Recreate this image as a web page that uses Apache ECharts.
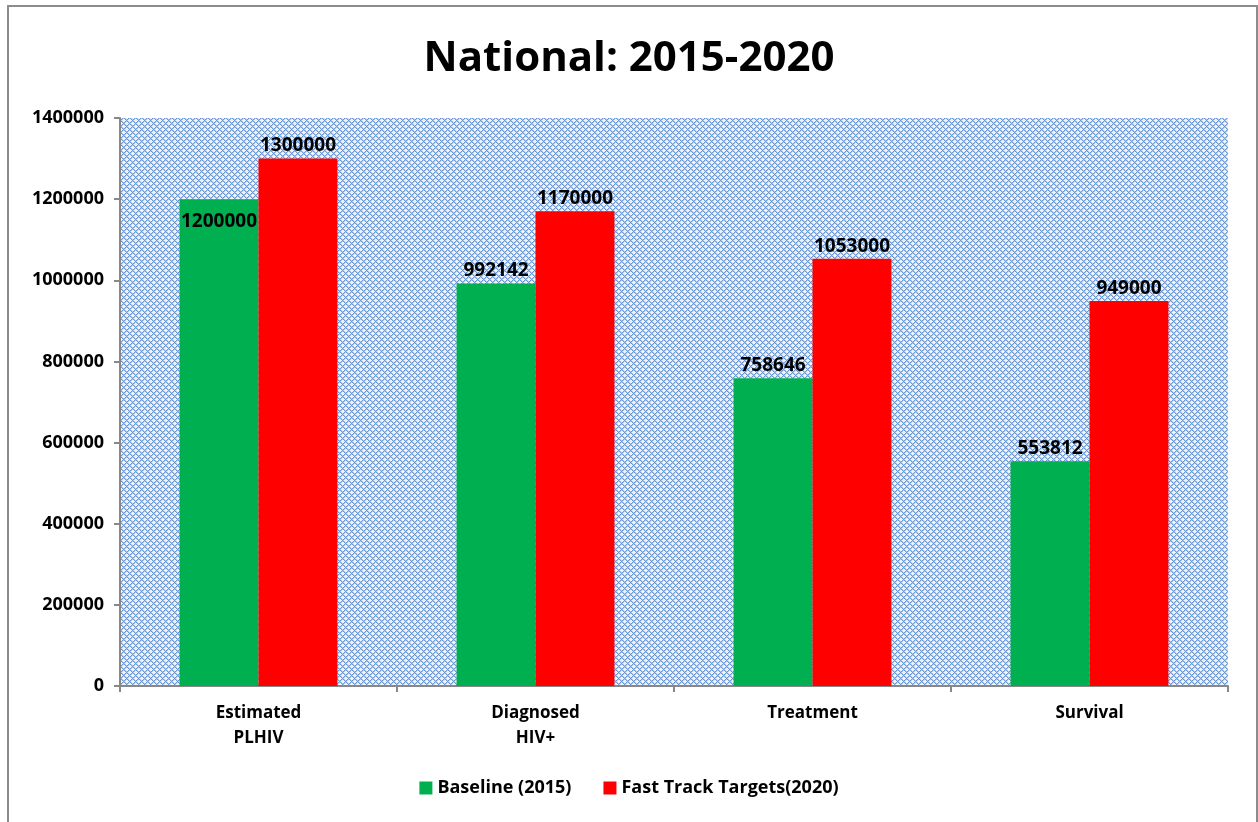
<!DOCTYPE html>
<html>
<head>
<meta charset="utf-8">
<script src="https://cdn.jsdelivr.net/npm/echarts@6/dist/echarts.min.js"></script>
<style>
	html, body { margin: 0; padding: 0; background: #fff; overflow: hidden; }
	#frame { position: absolute; left: 7px; top: 5px; width: 1247px; height: 840px; border: 2px solid #8c8c8c; }
	#chart { position: absolute; left: 0; top: 0; width: 1258px; height: 822px; }
</style>
</head>
<body>
<div id="frame"></div>
<div id="chart"></div>
<script>
const categories = ['Estimated\nPLHIV', 'Diagnosed\nHIV+', 'Treatment', 'Survival']
const baseline = [1200000, 992142, 758646, 553812]
const targets = [1300000, 1170000, 1053000, 949000]
const seriesNames = ['Baseline (2015)', 'Fast Track Targets(2020)']

// blue diamond hatch like the Excel plot area fill
const makePattern = () => {
	const c = document.createElement('canvas')
	c.width = 6
	c.height = 6
	const ctx = c.getContext('2d')
	for (let x = 0; x < 6; x++) {
		for (let y = 0; y < 6; y++) {
			const onLine = (x + y) % 6 === 0 || (x - y + 6) % 6 === 0
			const near = (x + y) % 6 === 1 || (x - y + 6) % 6 === 1
			ctx.fillStyle = onLine ? '#6b97d3' : near ? '#b3c9ea' : '#eef3fb'
			ctx.fillRect(x, y, 1, 1)
		}
	}
	return c
}

const font = '"Open Sans", "Liberation Sans", sans-serif'

const chart = echarts.init(document.getElementById('chart'))

const option = {
	animation: false,
	textStyle: { fontFamily: font },
	title: {
		text: 'National: 2015-2020',
		left: 'center',
		top: 33,
		textStyle: { fontSize: 42, fontWeight: 'bold', color: '#000', fontFamily: font }
	},
	legend: {
		bottom: 20,
		left: 'center',
		itemWidth: 13,
		itemHeight: 13,
		itemGap: 32,
		icon: 'rect',
		textStyle: { fontSize: 18, fontWeight: 'bold', color: '#000' },
		data: seriesNames
	},
	grid: {
		left: 120,
		right: 30,
		top: 118,
		bottom: 136,
		show: true,
		borderWidth: 0,
		backgroundColor: { image: makePattern(), repeat: 'repeat' }
	},
	xAxis: {
		type: 'category',
		data: categories,
		axisLine: { lineStyle: { color: '#888', width: 2 } },
		axisTick: { show: true, length: 6, lineStyle: { color: '#888', width: 2 } },
		axisLabel: { fontSize: 17, fontWeight: 'bold', color: '#000', lineHeight: 25, margin: 15 }
	},
	yAxis: {
		type: 'value',
		min: 0,
		max: 1400000,
		interval: 200000,
		axisLine: { show: true, lineStyle: { color: '#888', width: 2 } },
		axisTick: { show: true, length: 6, lineStyle: { color: '#888', width: 2 } },
		splitLine: { show: false },
		axisLabel: { fontSize: 18, fontWeight: 'bold', color: '#000', margin: 16, formatter: (v) => String(v) }
	},
	series: [
		{
			name: seriesNames[0],
			type: 'bar',
			barGap: '0%',
			barCategoryGap: '43%',
			itemStyle: { color: '#00b050' },
			label: { show: true, position: 'top', distance: 3, fontSize: 19, fontWeight: 'bold', color: '#000' },
			data: baseline.map((v, i) => i === 0 ? { value: v, label: { position: 'insideTop', distance: 13 } } : v)
		},
		{
			name: seriesNames[1],
			type: 'bar',
			itemStyle: { color: '#ff0000' },
			label: { show: true, position: 'top', distance: 3, fontSize: 19, fontWeight: 'bold', color: '#000' },
			data: targets
		}
	]
}

chart.setOption(option)
</script>
</body>
</html>
